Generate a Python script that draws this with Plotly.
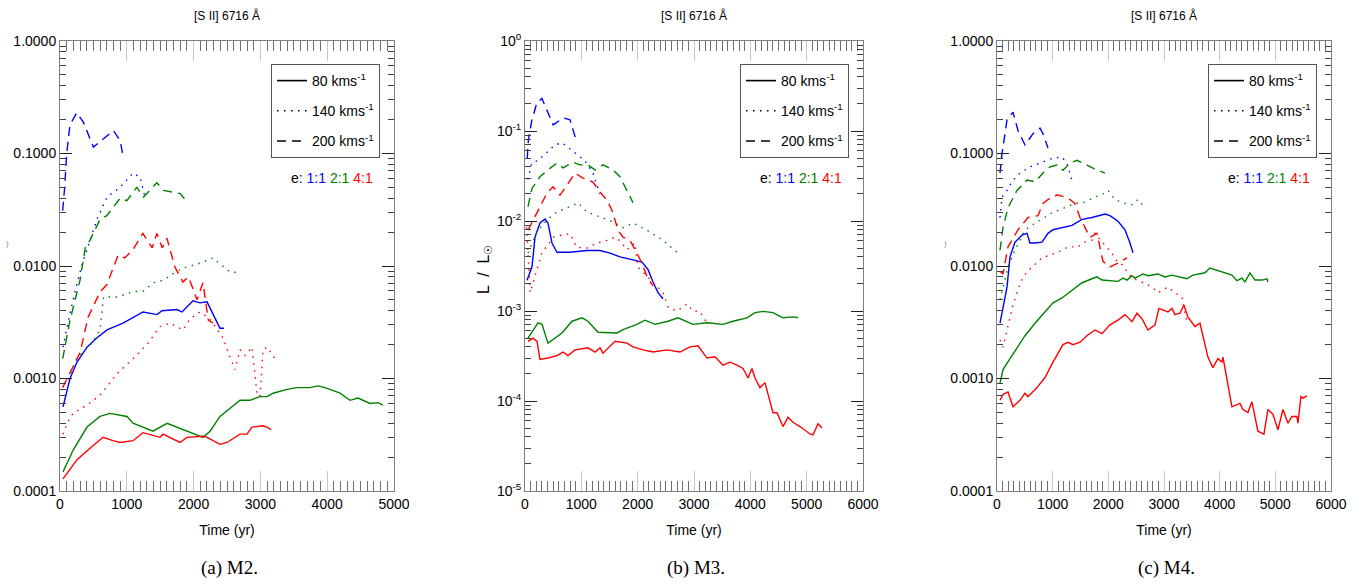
import plotly.graph_objects as go

# ---------------- DATA ----------------
# Panel (a) M2
A_t_80_11 = [45,105,150,255,404,554,704,943,1093,1243,1452,1527,1751,1826,1991,2096,2201,2395,2455]
A_L_80_11 = [0.00056,0.00079,0.0010,0.0014,0.0019,0.0023,0.0027,0.0031,0.0035,0.0039,0.0037,0.0040,0.0041,0.0039,0.0049,0.0047,0.0048,0.0028,0.0028]
A_t_80_21 = [45,195,404,599,749,1003,1093,1243,1392,1602,1796,1946,2141,2246,2395,2695,2844,2994,3099,3189,3398,3548,3743,3862,3967,4192,4341,4461,4641,4760,4835]
A_L_80_21 = [0.000148,0.00023,0.00037,0.00046,0.00049,0.00046,0.00040,0.00037,0.00034,0.00040,0.00036,0.00033,0.00030,0.00034,0.00046,0.00064,0.00064,0.00069,0.00069,0.00074,0.00080,0.00083,0.00083,0.00086,0.00083,0.00074,0.00064,0.00067,0.00060,0.00061,0.00058]
A_t_80_41 = [45,255,449,644,793,898,1093,1243,1497,1542,1796,1901,2141,2201,2395,2500,2695,2799,2874,3039,3099,3159]
A_L_80_41 = [0.000128,0.00019,0.00024,0.00030,0.00028,0.00027,0.00028,0.00033,0.00030,0.00032,0.00027,0.00030,0.000307,0.00030,0.00026,0.00027,0.00032,0.00032,0.00037,0.00038,0.00037,0.00035]
A_t_140_11 = [45,150,255,345,554,704,898,1093,1198,1272]
A_L_140_11 = [0.0019,0.0038,0.0070,0.011,0.026,0.041,0.050,0.067,0.062,0.041]
A_t_140_21 = [120,250,490,600,650,850,1090,1250,1400,1550,1700,1850,2100,2290,2550,2700]
A_L_140_21 = [0.00098,0.0015,0.0021,0.0027,0.0053,0.0053,0.0059,0.0060,0.0071,0.0075,0.0086,0.0096,0.0106,0.0118,0.0088,0.0088]
A_t_140_41 = [45,105,195,404,599,749,853,1093,1302,1497,1647,1841,1946,2096,2216,2290,2440,2545,2620,2695,2769,2874,2949,2994,3039,3099,3219]
A_L_140_41 = [0.00032,0.00040,0.00049,0.00058,0.00071,0.00091,0.0011,0.0015,0.0020,0.0029,0.0031,0.0027,0.0034,0.0039,0.0035,0.0031,0.0023,0.00155,0.0012,0.0018,0.0016,0.0019,0.00074,0.00069,0.0018,0.0019,0.0015]
A_t_200_11 = [40,70,100,150,250,350,500,700,800,900,950]
A_L_200_11 = [0.031,0.05,0.10,0.18,0.23,0.19,0.114,0.143,0.16,0.13,0.091]
A_t_200_21 = [40,150,300,380,450,600,700,900,1000,1150,1250,1450,1550,1700,1800,1920]
A_L_200_21 = [0.0015,0.0033,0.0075,0.0147,0.017,0.026,0.028,0.040,0.038,0.050,0.041,0.055,0.047,0.045,0.044,0.036]
A_t_200_41 = [40,300,420,600,700,820,870,970,1090,1240,1380,1450,1530,1600,1720,1840,1920,2000,2050,2140,2220,2290]
A_L_200_41 = [0.00083,0.0017,0.0035,0.0059,0.0068,0.0106,0.0125,0.0118,0.0139,0.0195,0.0145,0.0195,0.0145,0.0177,0.0098,0.0072,0.0080,0.0061,0.0050,0.0071,0.0033,0.0031]

# Panel (b) M3
B_t_80_11 = [36,124,178,266,355,408,479,568,799,1100,1331,1509,1686,1811,1917,2077,2183,2272,2361,2450]
B_L_80_11 = [0.0022,0.0031,0.0066,0.0095,0.0105,0.0095,0.0057,0.0045,0.0045,0.0047,0.0047,0.0044,0.0040,0.0038,0.0037,0.0035,0.0029,0.0021,0.0016,0.00137]
B_t_80_21 = [53,231,302,408,657,834,1012,1118,1296,1456,1633,1740,1988,2130,2308,2538,2716,2982,3231,3515,3692,3941,4083,4225,4402,4580,4757,4846]
B_L_80_21 = [0.0005,0.00074,0.00071,0.00044,0.00057,0.00077,0.00084,0.00077,0.00058,0.00058,0.00057,0.00062,0.00071,0.00079,0.00071,0.00077,0.00084,0.00071,0.00074,0.00071,0.00077,0.00084,0.00096,0.00099,0.00096,0.00084,0.00086,0.00084]
B_t_80_41 = [53,142,213,266,408,568,675,763,888,1118,1243,1331,1385,1509,1598,1811,1917,2094,2272,2521,2751,2929,3071,3231,3373,3515,3639,3763,3870,3958,4029,4083,4171,4260,4402,4473,4580,4668,4757,4881,5059,5112,5201,5272]
B_L_80_41 = [0.00046,0.0005,0.00046,0.00029,0.0003,0.00032,0.00035,0.00032,0.00037,0.00039,0.00035,0.00039,0.00034,0.0004,0.00046,0.00044,0.0004,0.00037,0.00035,0.00037,0.00035,0.0004,0.00041,0.0003,0.00031,0.00025,0.00027,0.00025,0.00023,0.00018,0.00023,0.00018,0.00014,0.00016,0.000074,0.000074,0.000052,0.000066,0.000058,0.000052,0.000043,0.000042,0.000056,0.00005]
B_t_140_11 = [50,120,230,390,530,660,760,890,1000,1060,1200,1330]
B_L_140_11 = [0.029,0.044,0.047,0.058,0.07,0.074,0.066,0.057,0.05,0.047,0.035,0.02]
B_t_140_21 = [53,213,391,568,746,941,1100,1331,1562,1740,1917,2166,2450,2698]
B_L_140_21 = [0.0044,0.0076,0.0103,0.0126,0.014,0.0159,0.0126,0.011,0.0098,0.0084,0.0095,0.0079,0.0061,0.0045]
B_t_140_41 = [30,90,300,500,660,800,920,1100,1280,1460,1600,1690,1810,1950,2000,2170,2340,2450,2540,2700,2880,2980,3100,3230]
B_L_140_41 = [0.0085,0.0016,0.0044,0.0066,0.007,0.0072,0.0051,0.005,0.0057,0.0061,0.0066,0.006,0.0048,0.0057,0.0031,0.0024,0.0019,0.0016,0.0011,0.0010,0.0012,0.0010,0.00099,0.00074]
B_t_200_11 = [40,60,120,210,300,410,500,680,800,920]
B_L_200_11 = [0.05,0.08,0.13,0.205,0.23,0.158,0.117,0.14,0.133,0.074]
B_t_200_21 = [53,124,266,408,568,675,852,976,1118,1243,1385,1562,1686,1811,1917]
B_L_200_21 = [0.0144,0.023,0.031,0.037,0.044,0.039,0.045,0.042,0.042,0.037,0.042,0.037,0.031,0.022,0.016]
B_t_200_41 = [53,213,391,497,621,746,888,1030,1207,1331,1456,1544,1651,1740,1864,1953,2077,2166,2272]
B_L_200_41 = [0.0079,0.0123,0.0205,0.024,0.0194,0.025,0.034,0.030,0.027,0.021,0.017,0.0132,0.0079,0.0066,0.0061,0.0048,0.0034,0.0024,0.0019]

# Panel (c) M4
C_t_80_11 = [54,180,233,323,449,539,593,683,808,916,1006,1167,1347,1527,1706,1940,2029,2173,2299,2389,2443]
C_L_80_11 = [0.0031,0.0065,0.012,0.0163,0.0188,0.0195,0.016,0.016,0.0163,0.0195,0.021,0.022,0.023,0.026,0.027,0.029,0.028,0.025,0.021,0.016,0.0131]
C_t_80_21 = [54,108,233,377,503,683,862,1006,1167,1347,1527,1706,1796,1886,2029,2173,2263,2335,2425,2478,2622,2712,2892,3017,3143,3287,3412,3520,3735,3825,3951,4059,4220,4310,4400,4454,4544,4634,4759,4849,4867]
C_L_80_21 = [0.00091,0.0012,0.0015,0.0019,0.0024,0.0031,0.0039,0.0047,0.0052,0.0061,0.0071,0.0077,0.0080,0.0075,0.0074,0.0073,0.0078,0.0075,0.0082,0.0078,0.0085,0.0082,0.0085,0.0080,0.0083,0.0080,0.0077,0.0083,0.0087,0.0096,0.0092,0.0088,0.0083,0.0074,0.0078,0.0072,0.0087,0.0075,0.0075,0.0077,0.0072]
C_t_80_41 = [54,108,198,287,413,503,557,718,862,1006,1185,1275,1365,1491,1616,1760,1886,2029,2173,2299,2425,2514,2604,2712,2838,2910,3071,3143,3197,3287,3358,3430,3556,3646,3789,3879,3969,4041,4059,4220,4364,4418,4508,4580,4687,4795,4867,4957,5047,5137,5227,5298,5388,5406,5460,5496,5568]
C_L_80_41 = [0.00064,0.00072,0.00076,0.00056,0.00064,0.00074,0.00069,0.00083,0.00102,0.0014,0.0020,0.0021,0.0020,0.0021,0.0024,0.0027,0.0025,0.0030,0.0033,0.0037,0.0032,0.0038,0.0034,0.0027,0.0030,0.0042,0.0039,0.0042,0.0037,0.0038,0.0045,0.0035,0.0029,0.0031,0.00155,0.00125,0.0015,0.0014,0.00155,0.00056,0.0006,0.00053,0.0005,0.00062,0.00034,0.00032,0.00053,0.00048,0.00035,0.00053,0.0004,0.00046,0.00046,0.0004,0.00069,0.00067,0.0007]
C_t_140_11 = [54,90,180,287,413,593,826,1006,1167,1257,1347]
C_L_140_11 = [0.027,0.041,0.047,0.058,0.067,0.076,0.084,0.091,0.093,0.082,0.058]
C_t_140_21 = [54,198,323,503,683,862,1006,1221,1401,1580,1760,1886,1994,2120,2299,2425,2532,2658]
C_L_140_21 = [0.005,0.0098,0.0138,0.021,0.024,0.027,0.030,0.033,0.036,0.037,0.041,0.043,0.047,0.039,0.036,0.035,0.039,0.033]
C_t_140_41 = [54,108,180,287,377,467,629,808,988,1167,1275,1455,1580,1706,1760,1814,2065,2155,2245,2425,2604,2784,2892,3071,3197,3323,3412]
C_L_140_41 = [0.0022,0.0019,0.0027,0.0045,0.0061,0.008,0.0098,0.0118,0.0127,0.0138,0.0148,0.0148,0.0163,0.017,0.0195,0.018,0.013,0.011,0.0103,0.0078,0.0072,0.0065,0.0058,0.0065,0.0058,0.0053,0.0031]
C_t_200_11 = [54,90,144,180,287,377,503,647,772,826,916]
C_L_200_11 = [0.067,0.10,0.15,0.20,0.233,0.16,0.119,0.15,0.168,0.15,0.112]
C_t_200_21 = [54,108,198,359,539,683,826,952,1078,1185,1311,1437,1616,1724,1940]
C_L_200_21 = [0.0138,0.022,0.033,0.047,0.058,0.056,0.067,0.076,0.079,0.071,0.082,0.087,0.079,0.074,0.067]
C_t_200_41 = [54,108,198,377,557,736,826,916,1078,1221,1311,1401,1491,1670,1796,1904,2029,2173,2335]
C_L_200_41 = [0.0090,0.0085,0.0148,0.021,0.027,0.028,0.036,0.039,0.043,0.041,0.039,0.036,0.027,0.018,0.0195,0.011,0.0098,0.0106,0.0118]

SPEEDS = ["80", "140", "200"]
RATIOS = ["11", "21", "41"]
PANEL_TITLES = ["[S II] 6716 Å", "[S II] 6716 Å", "[S II] 6716 Å"]
CAPTIONS = ["(a) M2.", "(b) M3.", "(c) M4."]
X_TICKS_A = [0, 1000, 2000, 3000, 4000, 5000]
X_TICKS_BC = [0, 1000, 2000, 3000, 4000, 5000, 6000]
Y_TICKS_AC = [1e-4, 1e-3, 1e-2, 1e-1, 1]
Y_TEXT_AC = ["0.0001", "0.0010", "0.0100", "0.1000", "1.0000"]
Y_TICKS_B = [1e-5, 1e-4, 1e-3, 1e-2, 1e-1, 1]
Y_TEXT_B = ["10<sup>-5</sup>", "10<sup>-4</sup>", "10<sup>-3</sup>", "10<sup>-2</sup>", "10<sup>-1</sup>", "10<sup>0</sup>"]

# ---------------- STYLE ----------------
W, H = 1370, 586
FONT = "Liberation Sans Narrow, Liberation Sans, Arial, sans-serif"
COLORS = {"11": "#0000ff", "21": "#008000", "41": "#ff0000"}
DASHES = {"80": "solid", "140": "1.5px,5.5px", "200": "9px,6px"}
LEGEND_NAMES = {"80": "80 kms<sup>-1</sup>", "140": "140 kms<sup>-1</sup>", "200": "200 kms<sup>-1</sup>"}

def px(x): return x / W
def py(y): return 1 - y / H

data = globals()
panels = [
    dict(prefix="A", xd=(60, 394), xr=[0, 5000], xt=X_TICKS_A, yr=[-4, 0], yt=Y_TICKS_AC, ytt=Y_TEXT_AC),
    dict(prefix="B", xd=(525, 863), xr=[0, 6000], xt=X_TICKS_BC, yr=[-5, 0], yt=Y_TICKS_B, ytt=Y_TEXT_B),
    dict(prefix="C", xd=(997, 1331), xr=[0, 6000], xt=X_TICKS_BC, yr=[-4, 0], yt=Y_TICKS_AC, ytt=Y_TEXT_AC),
]
YTOP, YBOT = 41, 491

fig = go.Figure()
layout = dict(width=W, height=H, margin=dict(l=0, r=0, t=0, b=0, pad=0), autosize=False,
              paper_bgcolor="white", plot_bgcolor="white", showlegend=True,
              font=dict(family=FONT, color="black", size=14))
annotations = []

for i, p in enumerate(panels):
    sfx = "" if i == 0 else str(i + 1)
    xa, ya = "x" + sfx, "y" + sfx
    for sp in SPEEDS:
        for r in RATIOS:
            t = data[f"{p['prefix']}_t_{sp}_{r}"]
            L = data[f"{p['prefix']}_L_{sp}_{r}"]
            fig.add_trace(go.Scatter(x=t, y=L, mode="lines", xaxis=xa, yaxis=ya, showlegend=False,
                                     line=dict(color=COLORS[r], width=1.4, dash=DASHES[sp])))
    # legend dummy traces
    for sp in SPEEDS:
        fig.add_trace(go.Scatter(x=[None], y=[None], mode="lines", xaxis=xa, yaxis=ya,
                                 name=LEGEND_NAMES[sp], legend="legend" + sfx, legendgroup=sp + sfx,
                                 line=dict(color="black", width=1.6, dash=DASHES[sp])))
    ylo, yhi = p["yr"]
    minor_y = [m * 10 ** k for k in range(ylo, yhi) for m in range(2, 10)]
    layout["xaxis" + sfx] = dict(
        domain=[px(p["xd"][0]), px(p["xd"][1])], range=p["xr"], anchor=ya, automargin=False,
        tickvals=p["xt"], ticktext=[str(v) for v in p["xt"]],
        ticks="inside", ticklen=20, tickcolor="#c8c8c8", tickwidth=1,
        showline=True, linecolor="#808080", linewidth=1, mirror="allticks",
        showgrid=False, zeroline=False,
        minor=dict(dtick=100, tick0=0, ticks="inside", ticklen=10, tickcolor="#707070", showgrid=False),
        tickfont=dict(size=14, family=FONT),
        title=dict(text="Time (yr)", font=dict(size=14, family=FONT), standoff=14),
    )
    layout["yaxis" + sfx] = dict(
        domain=[py(YBOT), py(YTOP)], type="log", range=p["yr"], anchor=xa, automargin=False,
        tickvals=p["yt"], ticktext=p["ytt"],
        ticks="inside", ticklen=12, tickcolor="#202020", tickwidth=1,
        showline=True, linecolor="#808080", linewidth=1, mirror="allticks",
        showgrid=False, zeroline=False,
        minor=dict(tickvals=minor_y, ticks="inside", ticklen=6, tickcolor="#404040", showgrid=False),
        tickfont=dict(size=14, family=FONT),
    )
    x0, x1 = p["xd"]
    # legend box
    layout["legend" + sfx] = dict(
        x=px(x1 - 14), y=py(64), xanchor="right", yanchor="top",
        bgcolor="white", bordercolor="#555555", borderwidth=1,
        font=dict(size=14, family=FONT), tracegroupgap=9, itemwidth=30,
    )
    # title
    annotations.append(dict(text=PANEL_TITLES[i], x=px((x0 + x1) / 2), y=py(16), xref="paper", yref="paper",
                            xanchor="center", yanchor="middle",
                            showarrow=False, font=dict(size=12, family=FONT)))
    # caption
    annotations.append(dict(text=CAPTIONS[i], x=px((x0 + x1) / 2 + 2), y=py(568), xref="paper", yref="paper",
                            xanchor="center", yanchor="middle",
                            showarrow=False, font=dict(size=19, family="Liberation Serif, Times New Roman, serif")))
    # eccentricity key
    annotations.append(dict(
        text="e: <span style='color:#0000ff'>1:1</span> <span style='color:#008000'>2:1</span> <span style='color:#ff0000'>4:1</span>",
        x=px(x1 - 19), y=py(178), xref="paper", yref="paper", xanchor="right", yanchor="middle",
        showarrow=False, font=dict(size=14, family=FONT)))

# y-axis label on (b)
annotations.append(dict(text="L  /  L<sub>☉</sub>", x=px(484), y=py(270), xref="paper", yref="paper",
                        xanchor="center", yanchor="middle",
                        textangle=-90, showarrow=False, font=dict(size=16, family=FONT)))
# clipped label remnants on (a) and (c)
for xx in (7, 945):
    annotations.append(dict(text=")", x=px(xx), y=py(243), xref="paper", yref="paper",
                            xanchor="center", yanchor="middle",
                            showarrow=False, font=dict(size=8, color="#888888", family=FONT)))

layout["annotations"] = annotations
fig.update_layout(**layout)
fig.write_html("out.html")
